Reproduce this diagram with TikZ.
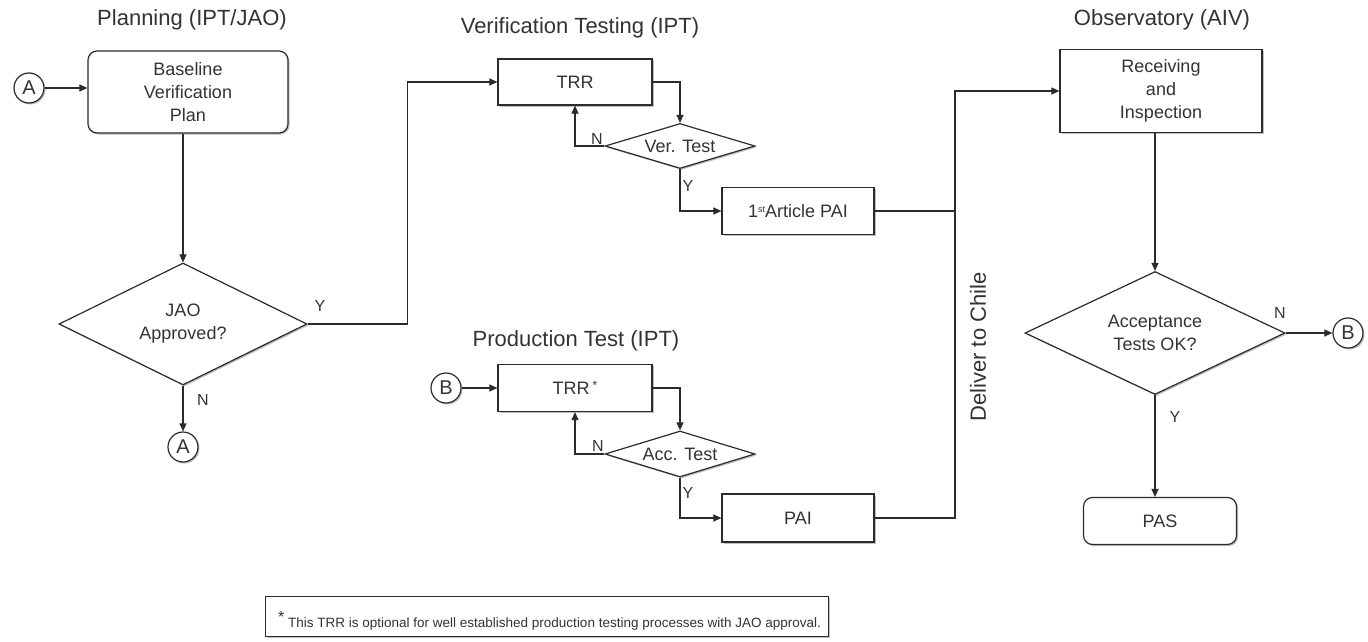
\documentclass[tikz,border=0pt]{standalone}
\usepackage{fontspec}
\setmainfont{Liberation Sans}
\usetikzlibrary{shapes.geometric,arrows.meta,shadows}
\definecolor{ink}{HTML}{2B2B2B}
\definecolor{txt}{HTML}{333333}
\begin{document}
\begin{tikzpicture}[x=1pt,y=-1pt,
  every node/.style={text=txt},
  shd/.style={drop shadow={shadow xshift=1.5pt,shadow yshift=-1.5pt,opacity=0.25,fill=black}},
  box/.style={draw=ink,line width=1.2pt,fill=white,shd,inner sep=0pt,font=\fontsize{18}{23}\selectfont,align=center},
  rbox/.style={box,rounded corners=9pt},
  dia/.style={diamond,draw=ink,line width=1.2pt,fill=white,shd,inner sep=0pt,font=\fontsize{18}{23}\selectfont,align=center},
  conn/.style={circle,draw=ink,line width=1.2pt,fill=white,shd,minimum size=30pt,inner sep=0pt,font=\fontsize{20}{20}\selectfont},
  ttl/.style={font=\fontsize{22}{26}\selectfont},
  lbl/.style={font=\fontsize{16}{16}\selectfont,inner sep=1pt},
  ln/.style={draw=ink,line width=1.1pt},
  arr/.style={ln,-{Triangle[length=8pt,width=7pt]}},
]
\useasboundingbox[fill=white] (0,0) rectangle (1368,642);

% titles
\node[ttl] (tPlan) at (192,20) {Planning (IPT/JAO)};
\node[ttl] (tVer) at (580,28) {Verification Testing (IPT)};
\node[ttl] (tProd) at (576,341) {Production Test (IPT)};
\node[ttl] (tObs) at (1162,20) {Observatory (AIV)};

% planning
\node[conn] (cA1) at (29,88) {A};
\node[rbox,minimum width=200pt,minimum height=82pt] (bvp) at (188,92) {Baseline\\Verification\\Plan};
\node[dia,aspect=2.03,minimum width=248pt,minimum height=122pt] (jao) at (183,324) {JAO\\Approved?};
\node[conn] (cA2) at (183,447) {A};

% verification testing
\node[box,minimum width=154pt,minimum height=46pt] (trr1) at (575,82) {TRR};
\node[dia,aspect=3.33,minimum width=150pt,minimum height=45pt] (ver) at (680,146) {Ver. Test};
\node[box,minimum width=152pt,minimum height=47pt] (pai1) at (798,211) {1\raisebox{5pt}{\fontsize{9}{9}\selectfont st}Article PAI};

% production test
\node[conn] (cB1) at (446,388) {B};
\node[box,minimum width=154pt,minimum height=47pt] (trr2) at (575,388) {TRR\,\raisebox{5pt}{\fontsize{12}{12}\selectfont *}};
\node[dia,aspect=3.26,minimum width=150pt,minimum height=46pt] (acc) at (680,454) {Acc. Test};
\node[box,minimum width=152pt,minimum height=48pt] (pai2) at (798,518) {PAI};

% observatory
\node[box,minimum width=202pt,minimum height=83pt] (rec) at (1161,91) {Receiving\\and\\Inspection};
\node[dia,aspect=2.11,minimum width=260pt,minimum height=123pt] (accept) at (1155,333) {Acceptance\\Tests OK?};
\node[rbox,minimum width=153pt,minimum height=47pt] (pas) at (1160,521) {PAS};
\node[conn] (cB2) at (1348,333) {B};

\node[ttl,rotate=90] (dlv) at (978,347) {Deliver to Chile};

% connectors
\draw[arr] (cA1.east) -- (cA1.east -| bvp.west);
\draw[arr] (jao.north |- bvp.south) -- (jao.north);
\draw[arr] (jao.east) -- ++(100,0) |- (trr1.west);
\draw[arr] (jao.south) -- (cA2.north);
\node[lbl] (ly1) at (320,306) {Y};
\node[lbl] (ln1) at (203,400) {N};

\draw[arr] (trr1.east) -| (ver.north);
\draw[arr] (ver.west) -| (trr1.south);
\draw[arr] (ver.south) |- (pai1.west);
\node[lbl] (ln2) at (597,139) {N};
\node[lbl] (ly2) at (688,186) {Y};

\draw[arr] (cB1.east) -- (trr2.west);
\draw[arr] (trr2.east) -| (acc.north);
\draw[arr] (acc.west) -| (trr2.south);
\draw[arr] (acc.south) |- (pai2.west);
\node[lbl] (ln3) at (598,446) {N};
\node[lbl] (ly3) at (688,493) {Y};

\coordinate (jx) at (955,91);
\draw[ln] (pai1.east) -- (pai1.east -| jx);
\draw[arr] (pai2.east) -| (jx) -- (jx -| rec.west);

\draw[arr] (accept.north |- rec.south) -- (accept.north);
\draw[arr] (accept.east) -- (cB2.west);
\draw[arr] (accept.south) -- (accept.south |- pas.north);
\node[lbl] (ln4) at (1280,313) {N};
\node[lbl] (ly4) at (1175,417) {Y};

% footnote
\node[draw=ink,line width=1.2pt,fill=white,shd,minimum width=563pt,minimum height=40pt,anchor=north west,inner sep=0pt] (fn) at (265,596) {};
\node[anchor=west,font=\fontsize{13.5}{14}\selectfont,inner sep=0pt] (fnt) at (278,621) {\raisebox{5pt}{\fontsize{16}{16}\selectfont *}\ This TRR is optional for well established production testing processes with JAO approval.};
\end{tikzpicture}
\end{document}
